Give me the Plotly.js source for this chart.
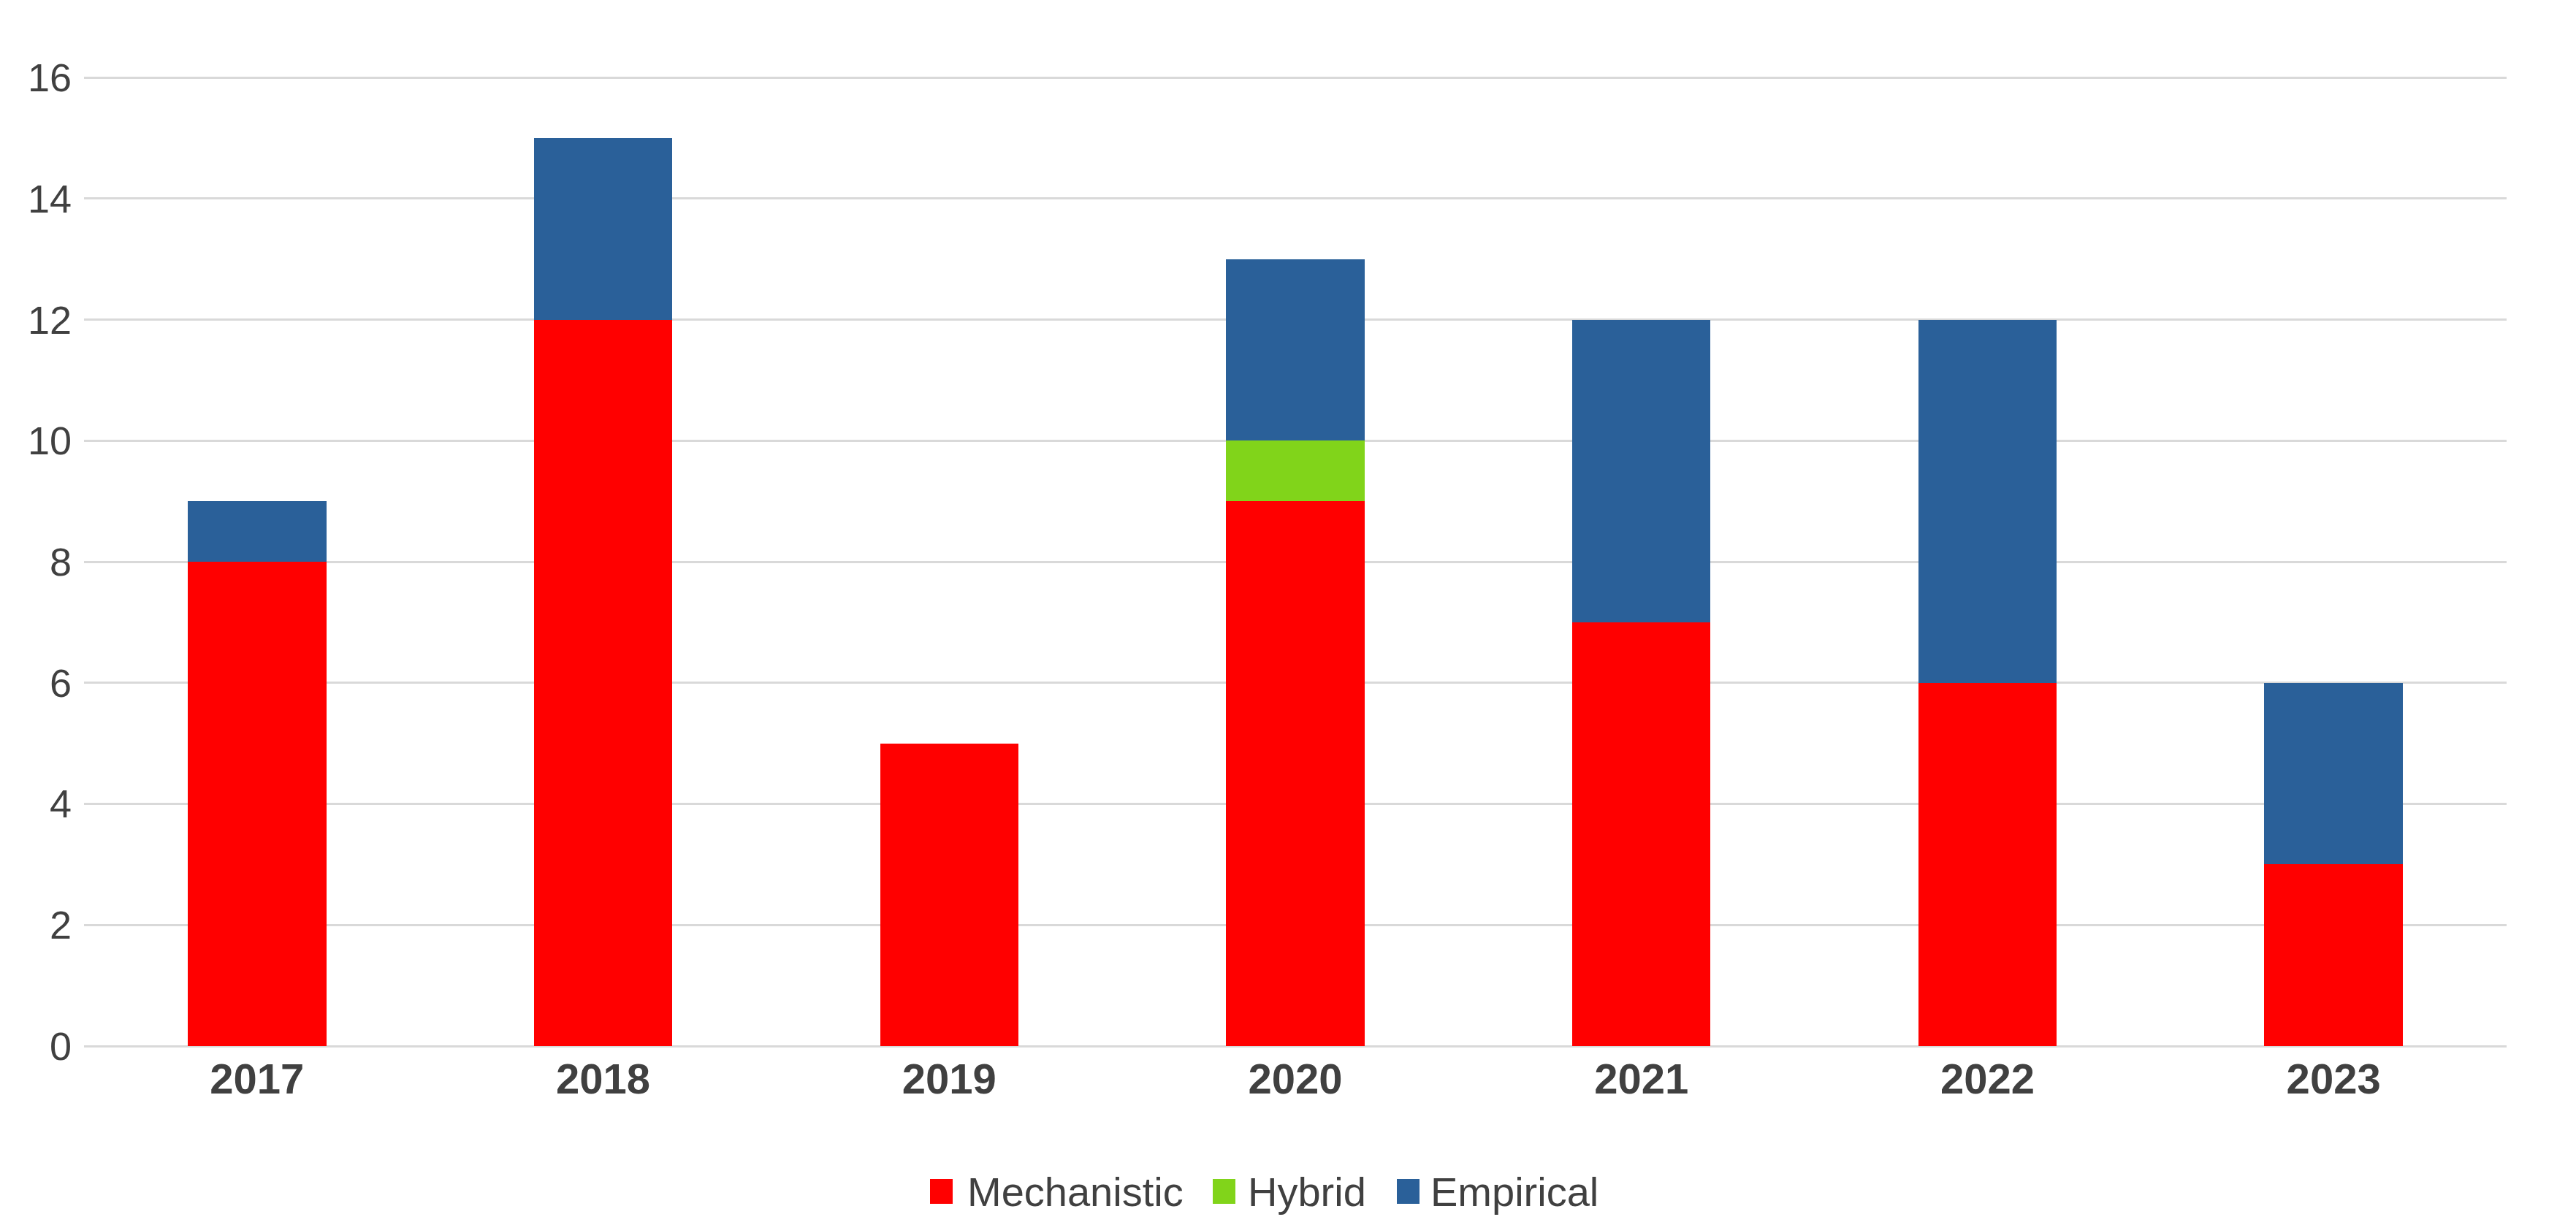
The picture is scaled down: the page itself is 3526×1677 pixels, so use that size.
<!DOCTYPE html>
<html>
<head>
<meta charset="utf-8">
<script src="https://cdn.plot.ly/plotly-3.0.1.min.js"></script>
<style>html,body{margin:0;padding:0;background:#fff;}#chart{width:3526px;height:1677px;}</style>
</head>
<body>
<div id="chart"></div>
<script>
const years = ["2017", "2018", "2019", "2020", "2021", "2022", "2023"];
const mechanistic = [8, 12, 5, 9, 7, 6, 3];
const hybrid = [0, 0, 0, 1, 0, 0, 0];
const empirical = [1, 3, 0, 3, 5, 6, 3];
const seriesNames = ["Mechanistic", "Hybrid", "Empirical"];
const seriesColors = ["#ff0000", "#81d41a", "#2a6099"];
const yTicks = [0, 2, 4, 6, 8, 10, 12, 14, 16];

const W = 3526, H = 1677;
const M = {l: 115, r: 95, t: 102, b: 245};
const PW = W - M.l - M.r, PH = H - M.t - M.b;
const px2x = p => (p - M.l) / PW;
const py2y = p => (H - M.b - p) / PH;

const font = "'Liberation Sans', Arial, sans-serif";
const textColor = "#404040";

const values = [mechanistic, hybrid, empirical];
const data = seriesNames.map((name, i) => ({
  type: "bar", name: name, x: years, y: values[i],
  marker: {color: seriesColors[i], line: {width: 0}},
  hoverinfo: "skip", showlegend: false
}));

// custom legend (large square swatches like the reference)
const legSwatchLeft = [1273, 1660, 1912];
const legTextLeft = [1322, 1706, 1956];
const legY = 1631, sw = 31, sh = 34;
const shapes = seriesNames.map((n, i) => ({
  type: "rect", xref: "paper", yref: "paper",
  x0: px2x(legSwatchLeft[i]), x1: px2x(legSwatchLeft[i] + sw),
  y0: py2y(legY + sh / 2), y1: py2y(legY - sh / 2),
  fillcolor: seriesColors[i], line: {width: 0}, layer: "above"
}));
const annotations = seriesNames.map((n, i) => ({
  text: n, xref: "paper", yref: "paper",
  x: px2x(legTextLeft[i]), y: py2y(legY), xanchor: "left", yanchor: "middle",
  showarrow: false, font: {family: font, size: 56, color: textColor}
}));

const layout = {
  width: W, height: H,
  barmode: "stack", bargap: 0.6,
  paper_bgcolor: "#ffffff", plot_bgcolor: "#ffffff",
  margin: M,
  showlegend: false,
  shapes: shapes,
  annotations: annotations,
  xaxis: {type: "category", showgrid: false, zeroline: false, showline: false, ticks: "",
          tickfont: {family: font, size: 58, color: textColor, weight: "bold"},
          ticklabelstandoff: 6},
  yaxis: {range: [0, 16.05], tickvals: yTicks, ticktext: yTicks.map(String),
          showgrid: true, gridcolor: "#d9d9d9", gridwidth: 3,
          zeroline: true, zerolinecolor: "#d9d9d9", zerolinewidth: 3,
          showline: false, ticks: "",
          tickfont: {family: font, size: 54, color: textColor}, ticklabelstandoff: 16}
};
Plotly.newPlot("chart", data, layout, {staticPlot: true, displayModeBar: false});
</script>
</body>
</html>
